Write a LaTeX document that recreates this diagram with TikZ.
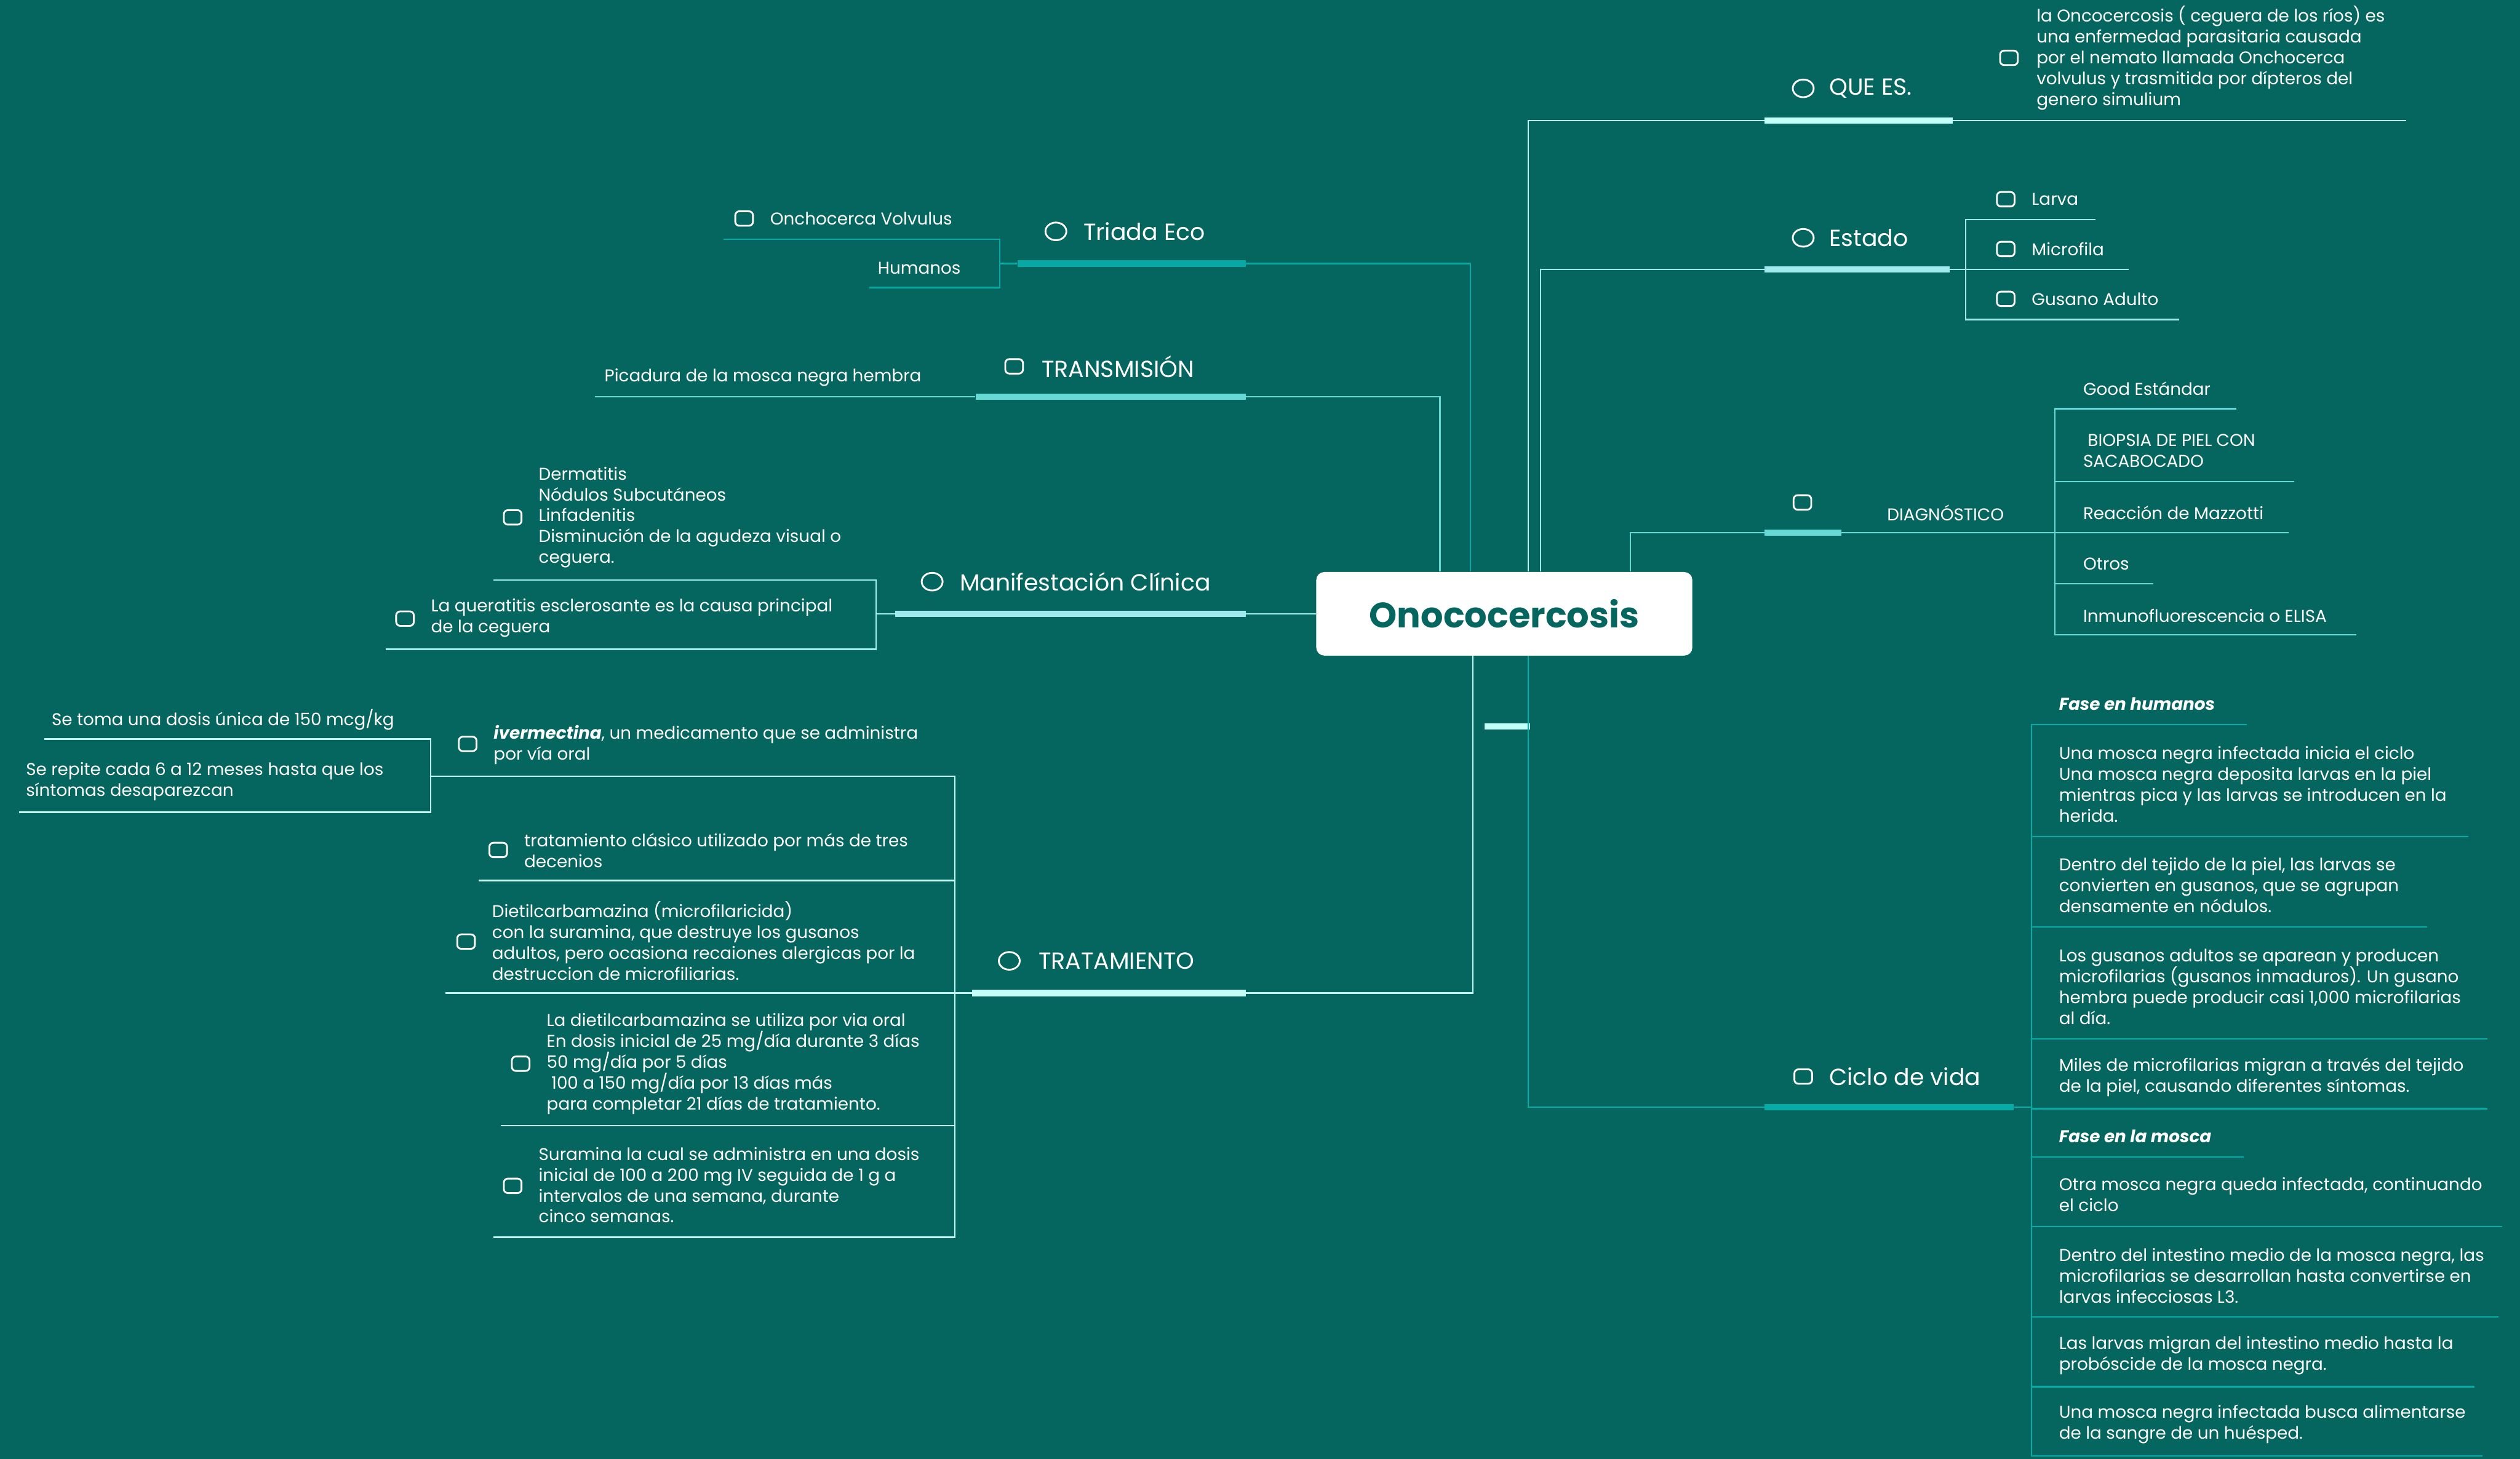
\documentclass[tikz,border=0pt]{standalone}
\usepackage{fontspec}
\setmainfont{Poppins}
\usetikzlibrary{shapes.geometric}
\definecolor{bgc}{HTML}{05665F}
\definecolor{tri}{HTML}{08A9A4}
\definecolor{trans}{HTML}{66D9D5}
\definecolor{mani}{HTML}{A0EBF0}
\definecolor{trat}{HTML}{C4FFF6}
\definecolor{que}{HTML}{C2FFF6}
\definecolor{est}{HTML}{9FE9EE}
\definecolor{diag}{HTML}{66D9D5}
\definecolor{ciclo}{HTML}{06ACA7}
\begin{document}
\begin{tikzpicture}[x=1pt,y=-1pt,
  ln/.style={draw=#1, line width=0.9pt},
  bar/.style={fill=#1, minimum height=4pt, inner sep=0pt},
  sqi/.style={draw=white, line width=1.1pt, rounded corners=2.5pt, minimum width=11pt, minimum height=9pt, inner sep=0pt},
  cii/.style={draw=white, line width=1.1pt, ellipse, minimum width=13pt, minimum height=11pt, inner sep=0pt},
  leaf/.style={anchor=west, align=left, inner sep=0pt, text=white, font=\fontsize{10.65}{13}\selectfont},
  topic/.style={anchor=west, inner sep=0pt, text=white, font=\fontsize{14.5}{17}\selectfont}]
\fill[bgc] (0,0) rectangle (1568,908);
\useasboundingbox (0,0) rectangle (1568,908);

\node[fill=white, rounded corners=5pt, minimum width=234pt, minimum height=52pt, inner sep=0pt, text=bgc, font=\fontsize{22}{26}\selectfont\bfseries] (onco) at (936,382) {Onococercosis};

% Triada Eco
\node[bar=tri, minimum width=142pt] (tribar) at (704,164) {};
\node[cii] (tri-i) at (657,144) {};
\node[topic] (tri) at (674,144) {Triada Eco};
\coordinate (tri-j) at (915,164);
\coordinate (tri-k) at (622,164);
\draw[ln=tri] (tribar.east) -- (tri-j) -- (tri-j |- onco.north);
\draw[ln=tri] (tribar.west) -- (tri-k);
\node[sqi] (onc-i) at (463,136) {};
\node[leaf] (onc) at (479,136) {Onchocerca Volvulus};
\node[leaf] (hum) at (546,167) {Humanos};
\coordinate (onc-u) at (450,149);
\coordinate (hum-u) at (541,179);
\draw[ln=tri] (onc-u) -- (onc-u -| tri-k) -- (hum-u -| tri-k) -- (hum-u);

% Transmision
\node[bar=trans, minimum width=168pt] (transbar) at (691,247) {};
\node[sqi] (trans-i) at (631,228) {};
\node[topic] (trans) at (648,228) {TRANSMISIÓN};
\coordinate (trans-j) at (896,247);
\draw[ln=trans] (transbar.east) -- (trans-j) -- (trans-j |- onco.north);
\node[leaf] (pic) at (376,235) {Picadura de la mosca negra hembra};
\coordinate (pic-u) at (370,247);
\draw[ln=trans] (pic-u) -- (transbar.west);

% Manifestacion clinica
\node[bar=mani, minimum width=218pt] (manibar) at (666,382) {};
\node[cii] (mani-i) at (580,362) {};
\node[topic] (mani) at (597,362) {Manifestación Clínica};
\coordinate (mani-k) at (545,382);
\draw[ln=mani] (manibar.east) -- (onco.west);
\draw[ln=mani] (manibar.west) -- (mani-k);
\node[sqi] (sint-i) at (319,322) {};
\node[leaf] (sint) at (335,322) {Dermatitis\\Nódulos Subcutáneos\\Linfadenitis\\Disminución de la agudeza visual o\\ceguera.};
\node[sqi] (quer-i) at (252,385) {};
\node[leaf] (quer) at (268,384.5) {La queratitis esclerosante es la causa principal\\de la ceguera};
\coordinate (sint-u) at (307,361);
\coordinate (quer-u) at (240,404);
\draw[ln=mani] (sint-u) -- (sint-u -| mani-k) -- (quer-u -| mani-k) -- (quer-u);

% Tratamiento
\node[bar=trat, minimum width=170pt] (tratbar) at (690,618) {};
\node[cii] (trat-i) at (628,598) {};
\node[topic] (trat) at (646,598) {TRATAMIENTO};
\coordinate (trat-j) at (916.5,618);
\coordinate (trat-k) at (594,618);
\draw[ln=trat] (tratbar.east) -- (trat-j) -- (trat-j |- onco.south);
\draw[ln=trat] (tratbar.west) -- (trat-k);
\node[sqi] (iver-i) at (291,463) {};
\node[leaf] (iver) at (307,463.5) {{\bfseries\itshape ivermectina}, un medicamento que se administra\\por vía oral};
\node[sqi] (clas-i) at (310,529) {};
\node[leaf] (clas) at (326,529.5) {tratamiento clásico utilizado por más de tres\\decenios};
\node[sqi] (diet-i) at (290,586) {};
\node[leaf] (diet) at (306,585.5) {Dietilcarbamazina (microfilaricida)\\con la suramina, que destruye los gusanos\\adultos, pero ocasiona recaiones alergicas por la\\destruccion de microfiliarias.};
\node[sqi] (dosi-i) at (324,662) {};
\node[leaf] (dosi) at (340,662) {La dietilcarbamazina se utiliza por via oral\\En dosis inicial de 25 mg/día durante 3 días\\50 mg/día por 5 días\\\ 100 a 150 mg/día por 13 días más\\para completar 21 días de tratamiento.};
\node[sqi] (sura-i) at (319,738) {};
\node[leaf] (sura) at (335,737.5) {Suramina la cual se administra en una dosis\\inicial de 100 a 200 mg IV seguida de 1 g a\\intervalos de una semana, durante\\cinco semanas.};
\coordinate (iver-u) at (277,483);
\coordinate (clas-u) at (298,548);
\coordinate (diet-u) at (277,618);
\coordinate (dosi-u) at (311.5,700.6);
\coordinate (sura-u) at (307,770);
\draw[ln=trat] (iver-u) -- (iver-u -| trat-k) -- (sura-u -| trat-k) -- (sura-u);
\draw[ln=trat] (clas-u) -- (clas-u -| trat-k);
\draw[ln=trat] (diet-u) -- (trat-k);
\draw[ln=trat] (dosi-u) -- (dosi-u -| trat-k);
\node[leaf] (toma) at (32,448) {Se toma una dosis única de 150 mcg/kg};
\node[leaf] (repi) at (16,486.5) {Se repite cada 6 a 12 meses hasta que los\\síntomas desaparezcan};
\coordinate (iver-k) at (268,483);
\coordinate (toma-u) at (27.5,460);
\coordinate (repi-u) at (11.7,505.5);
\draw[ln=trat] (iver-u) -- (iver-k);
\draw[ln=trat] (toma-u) -- (toma-u -| iver-k) -- (repi-u -| iver-k) -- (repi-u);

% Que es
\node[bar=que, minimum width=117pt] (quebar) at (1156.5,75) {};
\node[cii] (que-i) at (1122,55) {};
\node[topic] (que) at (1138,55) {QUE ES.};
\coordinate (que-j) at (951,75);
\draw[ln=que] (quebar.west) -- (que-j) -- (que-j |- onco.north);
\node[sqi] (def-i) at (1250,36) {};
\node[leaf] (def) at (1267,36) {la Oncocercosis ( ceguera de los ríos) es\\una enfermedad parasitaria causada\\por el nemato llamada Onchocerca\\volvulus y trasmitida por dípteros del\\genero simulium};
\coordinate (def-u) at (1497,75);
\draw[ln=que] (quebar.east) -- (def-u);

% Estado
\node[bar=est, minimum width=115pt] (estbar) at (1155.5,167.6) {};
\node[cii] (est-i) at (1122,148) {};
\node[topic] (est) at (1138,148) {Estado};
\coordinate (est-j) at (958.6,167.6);
\coordinate (est-k) at (1223,167.6);
\draw[ln=est] (estbar.west) -- (est-j) -- (est-j |- onco.north);
\draw[ln=est] (estbar.east) -- (est-k);
\node[sqi] (larv-i) at (1248,124) {};
\node[leaf] (larv) at (1264,124) {Larva};
\node[sqi] (micr-i) at (1248,155) {};
\node[leaf] (micr) at (1264,155) {Microfila};
\node[sqi] (gusa-i) at (1248,186) {};
\node[leaf] (gusa) at (1264,186) {Gusano Adulto};
\coordinate (larv-u) at (1304,136.6);
\coordinate (micr-u) at (1324.6,167.6);
\coordinate (gusa-u) at (1356,198.8);
\draw[ln=est] (larv-u) -- (larv-u -| est-k) -- (gusa-u -| est-k) -- (gusa-u);
\draw[ln=est] (est-k) -- (micr-u);

% Diagnostico
\node[bar=diag, minimum width=47.6pt] (diagbar) at (1121.8,331.6) {};
\node[sqi] (diag-i) at (1121.5,312.7) {};
\node[leaf] (diag) at (1174,319) {DIAGNÓSTICO};
\coordinate (diag-j) at (1014.5,331.6);
\coordinate (diag-k) at (1278.5,331.6);
\draw[ln=diag] (diagbar.west) -- (diag-j) -- (diag-j |- onco.north);
\draw[ln=diag] (diagbar.east) -- (diag-k);
\node[leaf] (good) at (1296,242) {Good Estándar};
\node[leaf] (biop) at (1296,280.5) {\ BIOPSIA DE PIEL CON\\SACABOCADO};
\node[leaf] (mazz) at (1296,319) {Reacción de Mazzotti};
\node[leaf] (otro) at (1296,351) {Otros};
\node[leaf] (inmu) at (1296,383) {Inmunofluorescencia o ELISA};
\coordinate (good-u) at (1391.4,254.4);
\coordinate (biop-u) at (1427.6,299.8);
\coordinate (mazz-u) at (1424,331.6);
\coordinate (otro-u) at (1340,363.3);
\coordinate (inmu-u) at (1466,395);
\draw[ln=diag] (good-u) -- (good-u -| diag-k) -- (inmu-u -| diag-k) -- (inmu-u);
\draw[ln=diag] (biop-u -| diag-k) -- (biop-u);
\draw[ln=diag] (diag-k) -- (mazz-u);
\draw[ln=diag] (otro-u -| diag-k) -- (otro-u);

% empty topic
\node[bar=que, minimum width=28.5pt] (stub) at (937.8,452) {};

% Ciclo de vida
\node[bar=ciclo, minimum width=155pt] (ciclobar) at (1175.5,689) {};
\node[sqi] (ciclo-i) at (1122,670) {};
\node[topic] (ciclo) at (1138,670) {Ciclo de vida};
\coordinate (ciclo-j) at (951,689);
\coordinate (ciclo-k) at (1264,689);
\draw[ln=ciclo] (ciclobar.west) -- (ciclo-j) -- (ciclo-j |- onco.south);
\draw[ln=ciclo] (ciclobar.east) -- (ciclo-k);
\node[leaf, font=\fontsize{10.65}{13}\selectfont\bfseries\itshape] (fh) at (1281,438) {Fase en humanos};
\node[leaf] (h1) at (1281,488) {Una mosca negra infectada inicia el ciclo\\Una mosca negra deposita larvas en la piel\\mientras pica y las larvas se introducen en la\\herida.};
\node[leaf] (h2) at (1281,551) {Dentro del tejido de la piel, las larvas se\\convierten en gusanos, que se agrupan\\densamente en nódulos.};
\node[leaf] (h3) at (1281,614) {Los gusanos adultos se aparean y producen\\microfilarias (gusanos inmaduros). Un gusano\\hembra puede producir casi 1,000 microfilarias\\al día.};
\node[leaf] (h4) at (1281,670.5) {Miles de microfilarias migran a través del tejido\\de la piel, causando diferentes síntomas.};
\node[leaf, font=\fontsize{10.65}{13}\selectfont\bfseries\itshape] (fm) at (1281,707) {Fase en la mosca};
\node[leaf] (m1) at (1281,743.5) {Otra mosca negra queda infectada, continuando\\el ciclo};
\node[leaf] (m2) at (1281,794) {Dentro del intestino medio de la mosca negra, las\\microfilarias se desarrollan hasta convertirse en\\larvas infecciosas L3.};
\node[leaf] (m3) at (1281,843.5) {Las larvas migran del intestino medio hasta la\\probóscide de la mosca negra.};
\node[leaf] (m4) at (1281,886.5) {Una mosca negra infectada busca alimentarse\\de la sangre de un huésped.};
\coordinate (fh-u) at (1398,451);
\coordinate (h1-u) at (1536,520.6);
\coordinate (h2-u) at (1510,577);
\coordinate (h3-u) at (1547.7,646.5);
\coordinate (h4-u) at (1547.7,690);
\coordinate (fm-u) at (1396,720);
\coordinate (m1-u) at (1556.7,763.4);
\coordinate (m2-u) at (1554.6,819.7);
\coordinate (m3-u) at (1539.6,863);
\coordinate (m4-u) at (1544.6,906);
\draw[ln=ciclo] (fh-u) -- (fh-u -| ciclo-k) -- (m4-u -| ciclo-k) -- (m4-u);
\draw[ln=ciclo] (h1-u -| ciclo-k) -- (h1-u);
\draw[ln=ciclo] (h2-u -| ciclo-k) -- (h2-u);
\draw[ln=ciclo] (h3-u -| ciclo-k) -- (h3-u);
\draw[ln=ciclo] (h4-u -| ciclo-k) -- (h4-u);
\draw[ln=ciclo] (fm-u -| ciclo-k) -- (fm-u);
\draw[ln=ciclo] (m1-u -| ciclo-k) -- (m1-u);
\draw[ln=ciclo] (m2-u -| ciclo-k) -- (m2-u);
\draw[ln=ciclo] (m3-u -| ciclo-k) -- (m3-u);
\end{tikzpicture}
\end{document}
